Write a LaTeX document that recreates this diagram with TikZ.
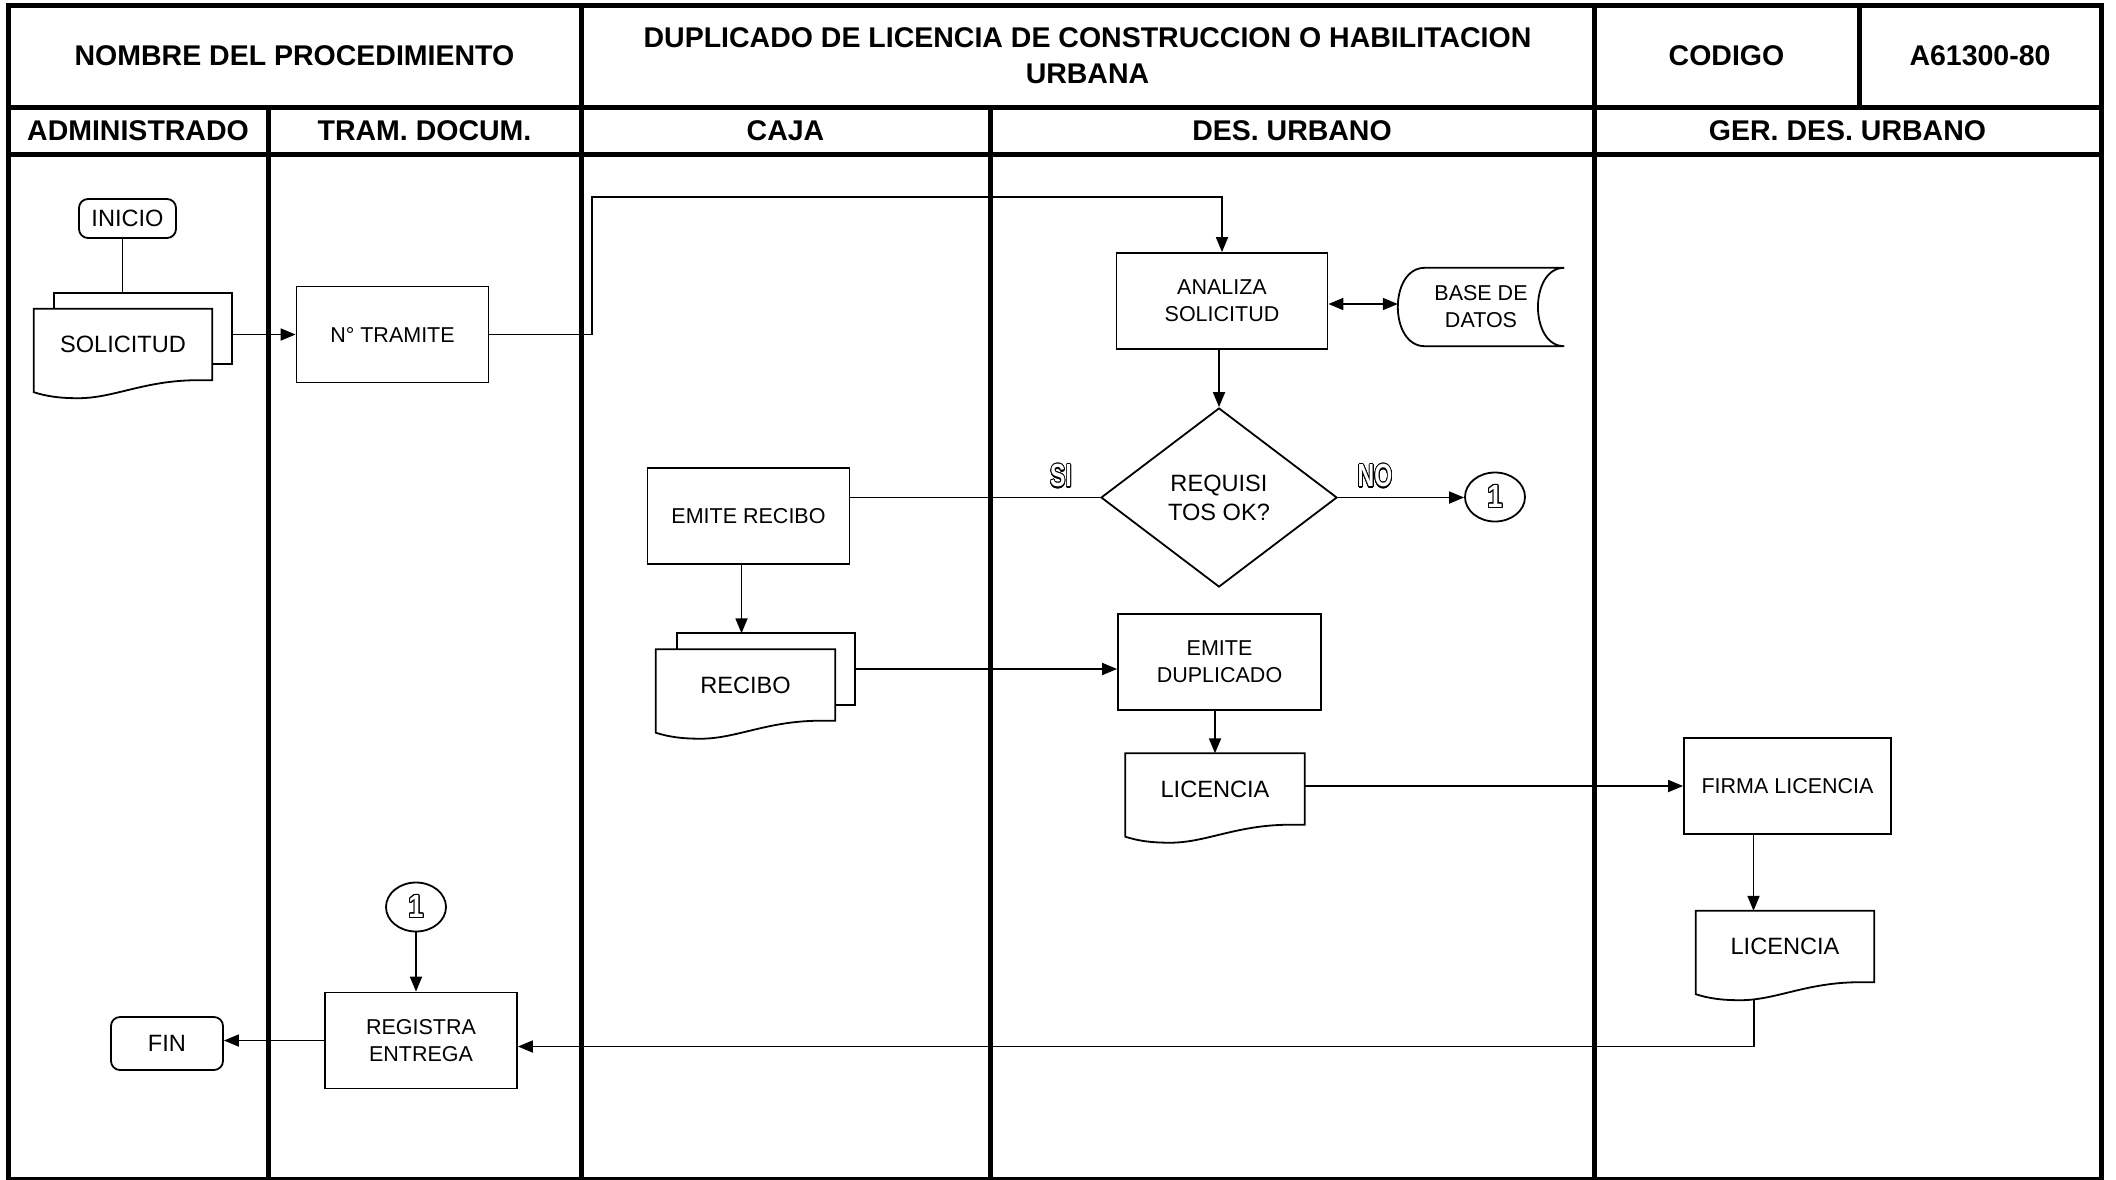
\documentclass[tikz,border=0pt]{standalone}
\usepackage{fontspec}
\setmainfont{Liberation Sans}
\usepackage{graphicx}
\usepackage{contour}
\usetikzlibrary{arrows.meta,positioning,shapes.geometric,calc}
\contourlength{1.1pt}
\contournumber{24}

% document outline with wavy foot (node drawn without border)
\newcommand{\docwave}[1]{%
  \draw[shp] (#1.south east) -- (#1.north east) -- (#1.north west) -- ($(#1.south west)+(0,12)$)
    .. controls ($(#1.south west)!0.07!(#1.south east)+(0,16)$) and ($(#1.south west)!0.14!(#1.south east)+(0,18)$)
    .. ($(#1.south west)!0.25!(#1.south east)+(0,18)$)
    .. controls ($(#1.south west)!0.45!(#1.south east)+(0,18)$) and ($(#1.south west)!0.62!(#1.south east)$)
    .. ($(#1.south west)!0.92!(#1.south east)$) -- cycle;}
% sheet behind a document: #1 front, #2 back
\newcommand{\docback}[2]{%
  \draw[shp] (#2.west |- #1.north) -- (#2.north west) -- (#2.north east) -- (#2.south east) -- (#2.south -| #1.east);}
% stored data outline
\newcommand{\storedata}[1]{%
  \draw[shp] ([xshift=27pt]#1.north west) -- (#1.north east)
    .. controls ([xshift=-35pt]#1.north east) and ([xshift=-35pt]#1.south east) .. (#1.south east)
    -- ([xshift=27pt]#1.south west)
    .. controls ([xshift=-9pt]#1.south west) and ([xshift=-9pt]#1.north west) .. ([xshift=27pt]#1.north west) -- cycle;}
% hollow lettering
\newcommand{\hollow}[2][0.72]{\scalebox{#1}[1]{\contour{black}{#2}}}

\begin{document}
\begin{tikzpicture}[x=1pt,y=-1pt,
  lane/.style={line width=5pt},
  shp/.style={line width=1.8pt},
  hdr/.style={font=\fontsize{28.5}{36}\selectfont\bfseries,align=center},
  proc/.style={draw,line width=1.8pt,align=center,inner sep=0pt,minimum height=96pt,font=\fontsize{21.5}{27}\selectfont},
  term/.style={draw,line width=1.8pt,rounded corners=9pt,inner sep=0pt,font=\fontsize{23.6}{28}\selectfont},
  docu/.style={inner sep=0pt,minimum width=178pt,minimum height=71pt,font=\fontsize{23.6}{28}\selectfont},
  sheet/.style={inner sep=0pt,minimum width=177pt,minimum height=71pt},
  conn/.style={draw,ellipse,line width=1.8pt,inner sep=0pt,minimum width=60pt,minimum height=49pt,text=white,font=\fontsize{32}{32}\selectfont\bfseries},
  ans/.style={text=white,font=\fontsize{32}{32}\selectfont\bfseries},
  wire/.style={line width=1.8pt},
  arr/.style={-{Triangle[length=15pt,width=12pt]},line width=1.8pt},
  darr/.style={{Triangle[length=15pt,width=12pt]}-{Triangle[length=15pt,width=12pt]},line width=1.8pt}
]
\useasboundingbox (0,0) rectangle (2116,1179);

% frame and lanes
\draw[lane] (8,1182) -- (8,5) -- (2101,5) -- (2101,1182);
\draw[lane] (8,1179) -- (2101,1179);
\draw[lane] (8,107.5) -- (2101,107.5);
\draw[lane] (8,154) -- (2101,154);
\draw[lane] (581,5) -- (581,1179);
\draw[lane] (1594,5) -- (1594,1179);
\draw[lane] (1859,5) -- (1859,107.5);
\draw[lane] (268,107.5) -- (268,1179);
\draw[lane] (990,107.5) -- (990,1179);

% headings
\node[hdr] (nombre) at (294.5,56) {NOMBRE DEL PROCEDIMIENTO};
\node[hdr] (titulo) at (1087.5,56) {DUPLICADO DE LICENCIA DE CONSTRUCCION O HABILITACION\\URBANA};
\node[hdr] (codigo) at (1726.5,56) {CODIGO};
\node[hdr] (numcod) at (1980,56) {A61300-80};
\node[hdr] (hadm) at (138,131) {ADMINISTRADO};
\node[hdr] (htram) at (424.5,131) {TRAM. DOCUM.};
\node[hdr] (hcaja) at (785.5,131) {CAJA};
\node[hdr] (hdes) at (1292,131) {DES. URBANO};
\node[hdr] (hger) at (1847.5,131) {GER. DES. URBANO};

% ADMINISTRADO
\node[term,minimum width=97pt,minimum height=39pt] (ini) at (127.5,218.5) {INICIO};
\node[sheet] (solb) at (143,328.5) {};
\node[docu] (sol) at (123,344.5) {SOLICITUD};
\docback{sol}{solb}
\docwave{sol}
\node[term,minimum width=112pt,minimum height=53pt] (fin) at (167,1043.5) {FIN};

% TRAM. DOCUM.
\node[proc,minimum width=192pt] (tram) at (392.5,334.5) {N° TRAMITE};
\node[conn] (con2) at (416,907) {\hollow[0.85]{1}};
\node[proc,minimum width=192pt] (reg) at (421,1040.5) {REGISTRA\\ENTREGA};

% CAJA
\node[proc,minimum width=202pt] (emr) at (748.5,516) {EMITE RECIBO};
\node[sheet] (recb) at (766,669) {};
\node[docu,minimum width=179pt] (rec) at (745.5,685) {RECIBO};
\docback{rec}{recb}
\docwave{rec}

% DES. URBANO
\node[proc,minimum width=211pt] (ana) at (1222,301) {ANALIZA\\SOLICITUD};
\node[inner sep=0pt,minimum width=166pt,minimum height=78pt,align=center,font=\fontsize{21.5}{27}\selectfont] (base) at (1481,307) {BASE DE\\DATOS};
\storedata{base}
\node[draw,diamond,line width=1.8pt,inner sep=0pt,minimum width=236pt,minimum height=179pt,align=center,font=\fontsize{23.6}{29}\selectfont] (dec) at (1219,497.5) {REQUISI\\TOS OK?};
\node[ans] (si) at (1061,476.5) {\hollow{SI}};
\node[ans] (no) at (1375,476.5) {\hollow{NO}};
\node[conn] (con1) at (1495,497) {\hollow[0.85]{1}};
\node[proc,minimum width=203pt] (dup) at (1219.5,662) {EMITE\\DUPLICADO};
\node[docu,minimum width=179pt] (lic) at (1215,789) {LICENCIA};
\docwave{lic}

% GER. DES. URBANO
\node[proc,minimum width=207pt] (firma) at (1787.5,786) {FIRMA LICENCIA};
\node[docu] (lic2) at (1785,946.5) {LICENCIA};
\docwave{lic2}

% connectors
\coordinate (up) at (592,197);
\draw[wire] ([xshift=-5pt]ini.south) -- ([xshift=-5pt]ini.south |- solb.north);
\draw[arr] (solb.east |- tram) -- (tram.west);
\draw[arr] (tram.east) -| (up) -| (ana.north);
\draw[darr] (ana.east |- 0,304) -- (base.west |- 0,304);
\draw[arr] (ana.south -| dec.north) -- (dec.north);
\draw[wire] (dec.west) -- (dec.west -| emr.east);
\draw[arr] (dec.east) -- (dec.east -| con1.west);
\draw[arr] ([xshift=-7pt]emr.south) -- ([xshift=-7pt]emr.south |- recb.north);
\draw[arr] (recb.east) -- (recb.east -| dup.west);
\draw[arr] (lic.north |- dup.south) -- (lic.north);
\draw[arr] (lic.east |- firma.west) -- (firma.west);
\draw[arr] ([xshift=-34pt]firma.south) -- ([xshift=-34pt]firma.south |- lic2.north);
\draw[arr] ([xshift=-31pt,yshift=-17pt]lic2.south) |- ([yshift=-6pt]reg.east);
\draw[arr] (con2.south) -- (con2.south |- reg.north);
\draw[arr] (reg.west) -- (reg.west -| fin.east);
\end{tikzpicture}
\end{document}
